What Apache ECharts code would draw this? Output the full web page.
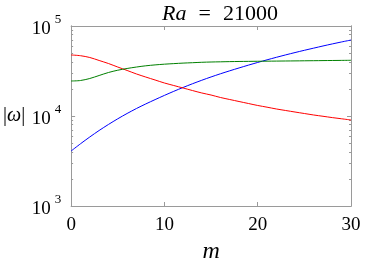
<!DOCTYPE html>
<html>
<head>
<meta charset="utf-8">
<script src="https://cdn.jsdelivr.net/npm/echarts@6/dist/echarts.min.js"></script>
<style>html,body{margin:0;padding:0;background:#fff}#c{width:374px;height:276px}</style>
</head>
<body>
<div id="c"></div>
<script>
var mValues = [0,1,2,3,4,5,6,7,8,9,10,11,12,13,14,15,16,17,18,19,20,21,22,23,24,25,26,27,28,29,30];
var blueValues = [4083,4909,5848,6902,8054,9311,10666,12106,13614,15205,16943,18793,20749,22803,24946,27164,29444,31769,34198,36728,39355,42073,44875,47753,50699,53703,56754,59979,63241,66527,69823];
var redValues = [47640,46770,44670,41400,38300,35000,32060,29310,27100,25120,23270,21820,20470,19190,18030,17100,16060,15250,14490,13770,13090,12530,11970,11510,11070,10660,10260,9930,9600,9310,9030];
var greenValues = [24480,24790,26100,28180,30430,32270,33730,35000,36120,36970,37650,38200,38700,39100,39520,39810,40000,40200,40360,40460,40550,40650,40750,40850,40950,41060,41160,41270,41370,41480,41590];
var xTicks = [0,10,20,30];
var yMajorTicks = [1000,10000,100000];
var yMajorExp = ['3','4','5'];
var yMinorTicks = [2000,3000,4000,5000,6000,7000,8000,9000,20000,30000,40000,50000,60000,70000,80000,90000];
var titleText = '{i|Ra}{e|=}{d|21000}';
var xName = 'm';

function pairs(ys){ return mValues.map(function(m,i){ return [m, ys[i]]; }); }

var AX = '#9a9a9a';
var SERIF = '"Liberation Serif","DejaVu Serif",serif';
var chart = echarts.init(document.getElementById('c'), null, {renderer:'canvas'});

function yAx(pos, ticks, len, withLabel){
  return {
    type:'log', logBase:10, min:1000, max:100000, position:pos,
    axisLine:{show:true, lineStyle:{color:AX, width:1}},
    axisTick:{show:true, inside:true, length:len, customValues:ticks, lineStyle:{color:AX}},
    splitLine:{show:false},
    axisLabel: withLabel ? {
      show:true, margin:10, customValues:yMajorTicks,
      formatter:function(v){ var i = yMajorTicks.indexOf(v); return '{b|10}{s|' + yMajorExp[i] + '}'; },
      rich:{
        b:{fontFamily:SERIF, fontSize:19, color:'#000', verticalAlign:'bottom', padding:[7,0,0,0]},
        s:{fontFamily:SERIF, fontSize:13, color:'#000', verticalAlign:'top', padding:[0,0,0,4]}
      }
    } : {show:false}
  };
}

var option = {
  animation:false,
  backgroundColor:'#fff',
  title:{
    text:titleText, left:215, top:-2, textAlign:'center',
    textStyle:{fontFamily:SERIF, fontSize:22, fontWeight:'normal', color:'#000',
      rich:{
        i:{fontFamily:SERIF, fontSize:22, fontStyle:'italic', color:'#000'},
        e:{fontFamily:SERIF, fontSize:22, color:'#000', padding:[0,12,0,12]},
        d:{fontFamily:SERIF, fontSize:22, color:'#000'}
      }}
  },
  grid:{left:71, right:23, top:26, bottom:70, containLabel:false},
  xAxis:[
    {type:'value', min:0, max:30, interval:10, position:'bottom',
     name:xName, nameLocation:'middle', nameGap:33,
     nameTextStyle:{fontFamily:SERIF, fontSize:24, fontStyle:'italic', color:'#000'},
     axisLine:{show:true, lineStyle:{color:AX}},
     axisTick:{show:true, inside:true, length:4, lineStyle:{color:AX}},
     splitLine:{show:false},
     axisLabel:{fontFamily:SERIF, fontSize:19, color:'#000', margin:10,
       formatter:function(v){ return xTicks.indexOf(v) >= 0 ? String(v) : ''; }}},
    {type:'value', min:0, max:30, interval:10, position:'top',
     axisLine:{show:true, lineStyle:{color:AX}},
     axisTick:{show:true, inside:true, length:4, lineStyle:{color:AX}},
     splitLine:{show:false}, axisLabel:{show:false}}
  ],
  yAxis:[
    Object.assign(yAx('left', yMajorTicks, 4, true), {
      name:'{n||}{w|ω}{n||}', nameLocation:'middle', nameRotate:0, nameGap:46,
      nameTextStyle:{align:'right', rich:{
        n:{fontFamily:SERIF, fontSize:20, color:'#000'},
        w:{fontFamily:SERIF, fontSize:20, fontStyle:'italic', color:'#000'}}}
    }),
    yAx('left', yMinorTicks, 2, false),
    yAx('right', yMajorTicks, 4, false),
    yAx('right', yMinorTicks, 2, false)
  ],
  series:[
    {type:'line', data:pairs(blueValues), xAxisIndex:0, yAxisIndex:0, showSymbol:false, smooth:0.3,
     lineStyle:{color:'#0000ff', width:1}, itemStyle:{color:'#0000ff'}},
    {type:'line', data:pairs(redValues), xAxisIndex:0, yAxisIndex:0, showSymbol:false, smooth:0.3,
     lineStyle:{color:'#ff0000', width:1}, itemStyle:{color:'#ff0000'}},
    {type:'line', data:pairs(greenValues), xAxisIndex:0, yAxisIndex:0, showSymbol:false, smooth:0.3,
     lineStyle:{color:'#008000', width:1}, itemStyle:{color:'#008000'}}
  ]
};
chart.setOption(option);
</script>
</body>
</html>
